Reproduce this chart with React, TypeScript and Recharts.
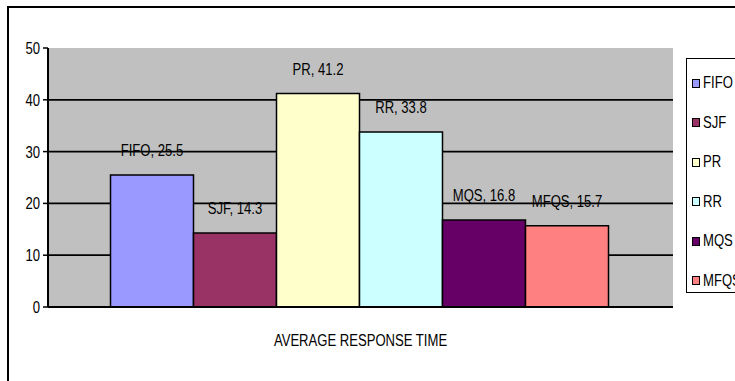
import React from 'react';
import { BarChart, Bar, XAxis, YAxis, CartesianGrid, LabelList } from 'recharts';

const categories = ['AVERAGE RESPONSE TIME'];
const schedulers = ['FIFO', 'SJF', 'PR', 'RR', 'MQS', 'MFQS'];
const responseTimes = [25.5, 14.3, 41.2, 33.8, 16.8, 15.7];
const barColors = ['#9999FF', '#993366', '#FFFFCC', '#CCFFFF', '#660066', '#FF8080'];
const yTicks = [0, 10, 20, 30, 40, 50];
const gridValues = [10, 20, 30, 40];

const FONT = '"Liberation Sans", Arial, sans-serif';
const FONT_SIZE = 17;
const SQUEEZE = 0.77; // narrow look

// one row per category, one key per scheduler
const data = categories.map(c => {
  const row: any = { name: c };
  schedulers.forEach((s, i) => { row[s] = responseTimes[i]; });
  return row;
});

const NarrowText = ({ x, y, anchor, children }: any) => (
  <text
    transform={`translate(${x},${y}) scale(${SQUEEZE},1)`}
    textAnchor={anchor}
    fontSize={FONT_SIZE}
    fontFamily={FONT}
    fill="#000"
  >
    {children}
  </text>
);

const makeLabel = (seriesName: string) => (props: any) => {
  const { x, y, width, value } = props;
  return <NarrowText x={x + width / 2} y={y - 19} anchor="middle">{`${seriesName}, ${value}`}</NarrowText>;
};

const YTick = ({ x, y, payload }: any) => (
  <NarrowText x={x} y={y + 6} anchor="end">{payload.value}</NarrowText>
);

const XTick = ({ x, y, payload }: any) => (
  <NarrowText x={x} y={y + 31} anchor="middle">{payload.value}</NarrowText>
);

const LegendBox = () => (
  <div style={{ position: 'absolute', left: 686, top: 58, border: '1px solid #000', width: 70, height: 235, background: '#fff', boxSizing: 'border-box' }}>
    {schedulers.map((s, i) => (
      <div key={s} style={{ position: 'absolute', left: 5, top: 15 + i * 39.5, display: 'flex', alignItems: 'center', fontFamily: FONT, fontSize: FONT_SIZE, lineHeight: '18px', whiteSpace: 'nowrap' }}>
        <span style={{ display: 'inline-block', width: 6, height: 7, background: barColors[i], border: '1px solid #000', marginRight: 3 }} />
        <span style={{ display: 'inline-block', transform: `scaleX(${SQUEEZE})`, transformOrigin: 'left center' }}>{s}</span>
      </div>
    ))}
  </div>
);

export default function App() {
  return (
    <div style={{ position: 'fixed', left: 0, top: 0, width: 735, height: 381, background: '#fff', overflow: 'hidden' }}>
      <div style={{ position: 'absolute', left: 7, top: 6, width: 760, height: 400, border: '2px solid #000', boxSizing: 'border-box' }} />
      <div style={{ position: 'absolute', left: 0, top: 0 }}>
        <BarChart
          width={735}
          height={381}
          data={data}
          margin={{ top: 48, right: 62, bottom: 44, left: 0 }}
          barCategoryGap="10%"
          barGap={0}
        >
          <CartesianGrid
            vertical={false}
            horizontalValues={gridValues}
            stroke="#000"
            strokeWidth={1.8}
            fill="#C0C0C0"
          />
          <XAxis
            dataKey="name"
            height={30}
            axisLine={{ stroke: '#000', strokeWidth: 2 }}
            tickLine={false}
            tick={<XTick />}
          />
          <YAxis
            width={48}
            domain={[0, 50]}
            ticks={yTicks}
            axisLine={{ stroke: '#000', strokeWidth: 2 }}
            tickLine={{ stroke: '#000', strokeWidth: 1.5 }}
            tickSize={5}
            tickMargin={3}
            tick={<YTick />}
            interval={0}
          />
          {/* gray frame on the right edge of the plot area */}
          <YAxis
            yAxisId="frame"
            orientation="right"
            width={0}
            domain={[0, 50]}
            tick={false}
            tickLine={false}
            axisLine={{ stroke: '#808080', strokeWidth: 1.5 }}
          />
          {schedulers.map((s, i) => (
            <Bar key={s} dataKey={s} fill={barColors[i]} stroke="#000" strokeWidth={1.5} isAnimationActive={false}>
              <LabelList dataKey={s} content={makeLabel(s)} />
            </Bar>
          ))}
        </BarChart>
      </div>
      <LegendBox />
    </div>
  );
}
